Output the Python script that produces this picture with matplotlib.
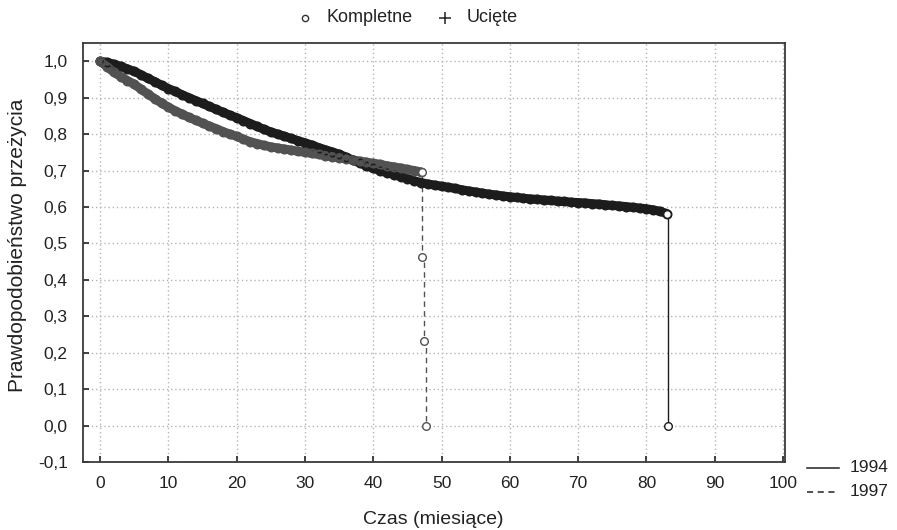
import matplotlib
matplotlib.use("Agg")
import matplotlib.pyplot as plt
from matplotlib.lines import Line2D
from matplotlib.ticker import FuncFormatter

plt.rcParams["font.family"] = ["Liberation Sans", "DejaVu Sans"]

# Kaplan-Meier estimates (month, survival)
months_1994 = list(range(0, 84))
surv_1994 = [
    1.000, 0.997, 0.992, 0.986, 0.979, 0.972, 0.963, 0.953, 0.944, 0.934,
    0.925, 0.917, 0.908, 0.900, 0.892, 0.884, 0.876, 0.868, 0.860, 0.852,
    0.845, 0.837, 0.829, 0.821, 0.813, 0.806, 0.800, 0.794, 0.788, 0.782,
    0.776, 0.770, 0.763, 0.757, 0.751, 0.745, 0.737, 0.729, 0.721, 0.713,
    0.706, 0.700, 0.694, 0.689, 0.683, 0.678, 0.672, 0.667, 0.663, 0.660,
    0.657, 0.654, 0.651, 0.647, 0.644, 0.641, 0.638, 0.635, 0.633, 0.630,
    0.628, 0.626, 0.624, 0.622, 0.621, 0.619, 0.618, 0.616, 0.615, 0.613,
    0.612, 0.611, 0.609, 0.608, 0.606, 0.604, 0.603, 0.601, 0.599, 0.597,
    0.595, 0.592, 0.588, 0.582,
]
drop_t_1994 = [83.2]
drop_s_1994 = [0.0]

months_1997 = list(range(0, 48))
surv_1997 = [
    1.000, 0.985, 0.970, 0.958, 0.947, 0.937, 0.923, 0.910, 0.897, 0.885,
    0.874, 0.864, 0.855, 0.846, 0.838, 0.830, 0.822, 0.815, 0.807, 0.800,
    0.794, 0.786, 0.779, 0.774, 0.769, 0.765, 0.762, 0.759, 0.756, 0.753,
    0.750, 0.747, 0.744, 0.741, 0.738, 0.735, 0.732, 0.729, 0.726, 0.723,
    0.720, 0.717, 0.713, 0.710, 0.707, 0.703, 0.700, 0.696,
]
drop_t_1997 = [47.2, 47.4, 47.7]
drop_s_1997 = [0.462, 0.233, 0.0]

x_ticks = list(range(0, 101, 10))
y_ticks = [-0.1, 0.0, 0.1, 0.2, 0.3, 0.4, 0.5, 0.6, 0.7, 0.8, 0.9, 1.0]

C94 = "#1c1c1c"
C97 = "#525252"

fig = plt.figure(figsize=(8.97, 5.30), dpi=100)
ax = fig.add_axes([83 / 897, 1 - 462 / 530, (785 - 83) / 897, (462 - 43) / 530])


def draw_curve(t, s, dt, ds, color, ls):
    tt = t + dt
    ss = s + ds
    # thin step line through all points (incl. the final drops)
    ax.step(tt, ss, where="post", color=color, lw=1.0, ls=ls, zorder=3)
    # dense band of overlapping "complete" markers
    ax.plot(t, s, color=color, lw=6.5, solid_capstyle="round", zorder=4)
    ax.plot(t, s, ls="none", marker="o", ms=6, mfc="none", mec=color,
            mew=1.2, zorder=5)
    ax.plot(dt, ds, ls="none", marker="o", ms=5.5, mfc="white", mec=color,
            mew=1.0, zorder=6)


draw_curve(months_1994, surv_1994, drop_t_1994, drop_s_1994, C94, "-")
draw_curve(months_1997, surv_1997, drop_t_1997, drop_s_1997, C97, (0, (4, 3)))
# last point of each curve before the drop is open
ax.plot([months_1997[-1] + 0.2], [surv_1997[-1]], ls="none", marker="o", ms=5.5,
        mfc="white", mec=C97, mew=1.0, zorder=6)
ax.plot([months_1994[-1]], [surv_1994[-1]], ls="none", marker="o", ms=5.5,
        mfc="white", mec=C94, mew=1.0, zorder=6)

ax.set_xlim(-2.5, 100.3)
ax.set_ylim(-0.1, 1.05)
ax.set_xticks(x_ticks)
ax.set_yticks(y_ticks)
ax.yaxis.set_major_formatter(FuncFormatter(lambda v, p: f"{v:.1f}".replace(".", ",")))
ax.grid(True, color="#b4b4b4", ls=(0, (1, 2)), lw=1.0)
ax.set_axisbelow(True)
ax.tick_params(direction="in", length=4, width=1.2, labelsize=12.5,
               colors="#222222")
ax.tick_params(axis="x", pad=10)
ax.tick_params(axis="y", pad=11)
for sp in ax.spines.values():
    sp.set_color("#3a3a3a")
    sp.set_linewidth(1.3)

fig.text(433 / 897, 1 - 520 / 530, "Czas (miesiące)", ha="center", va="center",
         fontsize=14, color="#222222")
fig.text(18 / 897, 1 - 245 / 530, "Prawdopodobieństwo przeżycia", ha="center",
         va="center", rotation=90, fontsize=15, color="#222222")

# top legend
fig.add_artist(Line2D([305 / 897], [1 - 18 / 530], ls="none", marker="o", ms=4.5,
                      mfc="white", mec="#333333", mew=1.0))
fig.text(327 / 897, 1 - 18 / 530, "Kompletne", ha="left", va="center",
         fontsize=13, color="#222222")
fig.add_artist(Line2D([445 / 897], [1 - 18 / 530], ls="none", marker="+", ms=8,
                      mec="#222222", mew=1.1))
fig.text(467 / 897, 1 - 18 / 530, "Ucięte", ha="left", va="center",
         fontsize=13, color="#222222")

# bottom-right legend
fig.add_artist(Line2D([807 / 897, 839 / 897], [1 - 468 / 530] * 2, color="#222222", lw=1.1))
fig.text(850 / 897, 1 - 468 / 530, "1994", ha="left", va="center", fontsize=12.5,
         color="#222222")
fig.add_artist(Line2D([807 / 897, 839 / 897], [1 - 492 / 530] * 2, color="#222222",
                      lw=1.1, ls=(0, (4, 3))))
fig.text(850 / 897, 1 - 492 / 530, "1997", ha="left", va="center", fontsize=12.5,
         color="#222222")

fig.savefig("out.png", dpi=100, facecolor="white")
